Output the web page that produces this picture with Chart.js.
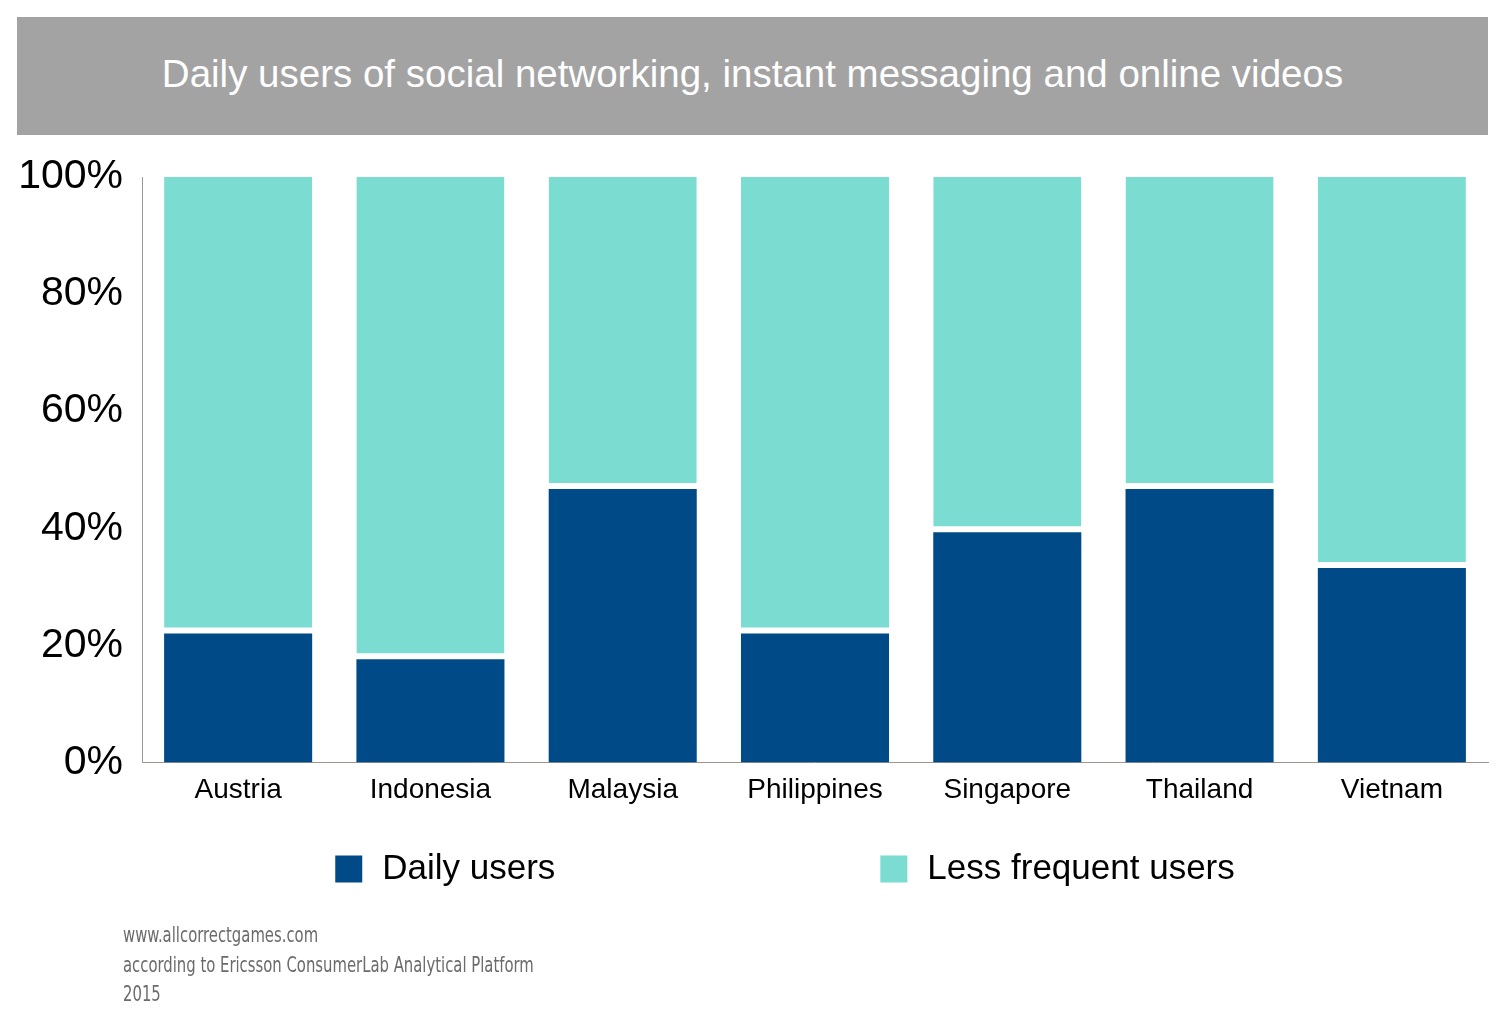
<!DOCTYPE html>
<html>
<head>
<meta charset="utf-8">
<script src="https://cdn.jsdelivr.net/npm/chart.js@4.4.1/dist/chart.umd.min.js"></script>
<style>
  html, body { margin: 0; padding: 0; background: #fff; }
  body { width: 1506px; height: 1024px; position: relative; overflow: hidden; font-family: "Liberation Sans", Arial, sans-serif; }
  #banner {
    position: absolute; left: 17px; top: 17px; width: 1471px; height: 118px;
    background: #a3a3a3; color: #fff; font-size: 38.5px; line-height: 114px; text-align: center;
  }
  #chart { position: absolute; left: 0; top: 0; }
  #source {
    position: absolute; left: 123px; top: 920px; color: #6b6b6b;
    font-family: "Liberation Sans Narrow", "DejaVu Sans Condensed", sans-serif;
    font-size: 22px; line-height: 29.5px; transform: scaleX(0.75); transform-origin: left top;
    white-space: nowrap;
  }
</style>
</head>
<body>
<canvas id="chart" width="1506" height="1024"></canvas>
<div id="banner">Daily users of social networking, instant messaging and online videos</div>
<div id="source">www.allcorrectgames.com<br>according to Ericsson ConsumerLab Analytical Platform<br>2015</div>
<script>
const countries = ["Austria", "Indonesia", "Malaysia", "Philippines", "Singapore", "Thailand", "Vietnam"];
const dailyUsers = [22, 17.6, 46.7, 22, 39.3, 46.7, 33.2];
const lessFrequentUsers = [78, 82.4, 53.3, 78, 60.7, 53.3, 66.8];
const seriesNames = ["Daily users", "Less frequent users"];
const seriesColors = ["#004b87", "#7bdcd2"];

const FONT = '"Liberation Sans", Arial, sans-serif';

// legend drawn by hand: two items far apart, under the axis
const legendGap = 325;
const splitLegend = {
  id: "splitLegend",
  afterDraw(chart) {
    const ctx = chart.ctx;
    const box = 27, textOff = 20;
    ctx.save();
    ctx.font = "35px " + FONT;
    ctx.textBaseline = "middle";
    const items = chart.data.datasets.map(ds => ({
      text: ds.label,
      color: ds.backgroundColor,
      w: box + textOff + ctx.measureText(ds.label).width
    }));
    const total = items.reduce((s, it) => s + it.w, 0) + legendGap * (items.length - 1);
    let x = 785 - total / 2;
    const y = 869;
    for (const it of items) {
      ctx.fillStyle = it.color;
      ctx.fillRect(x, y - box / 2, box, box);
      ctx.fillStyle = "#000";
      ctx.fillText(it.text, x + box + textOff, y);
      x += it.w + legendGap;
    }
    ctx.restore();
  }
};

new Chart(document.getElementById("chart"), {
  type: "bar",
  data: {
    labels: countries,
    datasets: [
      {
        label: seriesNames[0],
        data: dailyUsers,
        backgroundColor: seriesColors[0],
        borderWidth: 0
      },
      {
        label: seriesNames[1],
        data: lessFrequentUsers,
        backgroundColor: seriesColors[1],
        borderColor: "#ffffff",
        borderWidth: { top: 0, left: 0, right: 0, bottom: 6 },
        borderSkipped: false
      }
    ]
  },
  options: {
    responsive: false,
    animation: false,
    devicePixelRatio: 1,
    layout: { padding: { left: 0, right: 18, top: 177, bottom: 206 } },
    datasets: { bar: { barPercentage: 0.77, categoryPercentage: 1, inflateAmount: 0 } },
    plugins: {
      legend: { display: false },
      tooltip: { enabled: false }
    },
    scales: {
      x: {
        stacked: true,
        grid: { display: false, drawTicks: false },
        border: { display: true, color: "#9d9792", width: 1 },
        ticks: { color: "#000", padding: 11, font: { size: 28, family: FONT } }
      },
      y: {
        stacked: true,
        min: 0,
        max: 100,
        grid: { display: false, drawTicks: false },
        border: { display: true, color: "#9d9792", width: 1 },
        ticks: {
          stepSize: 20,
          color: "#000",
          padding: 19,
          font: { size: 41, family: FONT },
          callback: v => v + "%"
        },
        afterFit: s => { s.width = 142; }
      }
    }
  },
  plugins: [splitLegend]
});
</script>
</body>
</html>
